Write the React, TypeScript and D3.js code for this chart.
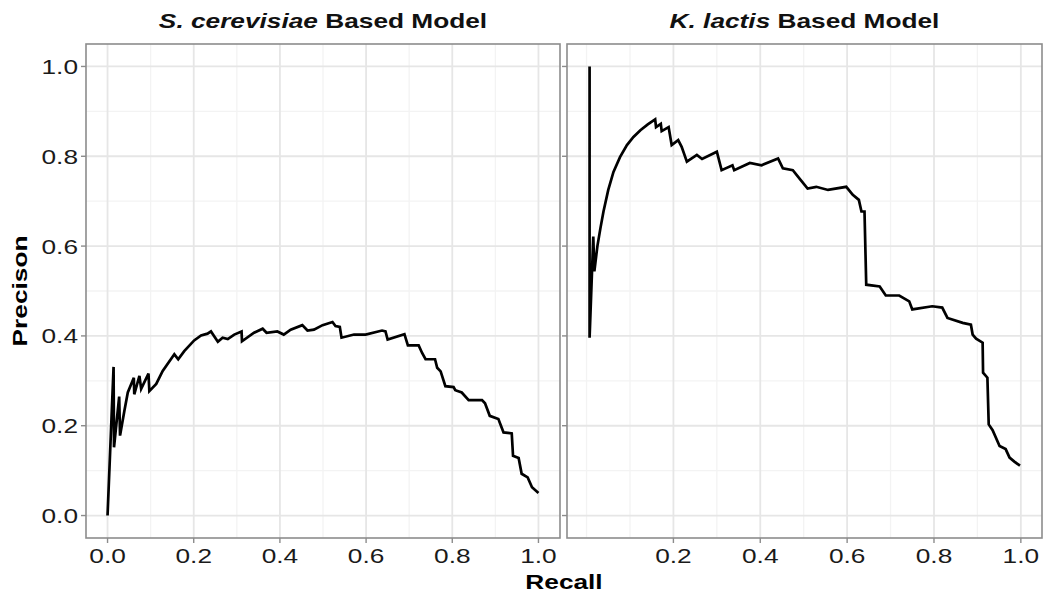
import React from "react";
import * as d3 from "d3";

// Precision-recall curve for the S. cerevisiae based model
const scRecall = [
  0, 0.014, 0.015, 0.027, 0.029, 0.039, 0.047, 0.061, 0.062, 0.074, 0.078, 0.095, 0.097,
  0.113, 0.128, 0.155, 0.164, 0.178, 0.201, 0.217, 0.232, 0.24, 0.256, 0.267, 0.279, 0.294,
  0.311, 0.312, 0.34, 0.36, 0.369, 0.394, 0.409, 0.425, 0.452, 0.464, 0.479, 0.499, 0.522,
  0.529, 0.539, 0.543, 0.572, 0.599, 0.637, 0.645, 0.65, 0.689, 0.697, 0.722, 0.73, 0.738,
  0.76, 0.765, 0.773, 0.784, 0.803, 0.807, 0.822, 0.838, 0.869, 0.876, 0.887, 0.907, 0.919,
  0.938, 0.941, 0.954, 0.961, 0.975, 0.985, 1.0,
];
const scPrecision = [
  0, 0.331, 0.152, 0.265, 0.178, 0.233, 0.274, 0.307, 0.27, 0.311, 0.282, 0.316, 0.277,
  0.293, 0.322, 0.359, 0.348, 0.366, 0.39, 0.401, 0.405, 0.41, 0.387, 0.396, 0.393, 0.403,
  0.41, 0.388, 0.407, 0.416, 0.407, 0.41, 0.403, 0.414, 0.424, 0.412, 0.414, 0.424, 0.431,
  0.422, 0.42, 0.396, 0.403, 0.403, 0.412, 0.41, 0.392, 0.404, 0.379, 0.379, 0.362, 0.348,
  0.348, 0.329, 0.321, 0.288, 0.286, 0.279, 0.274, 0.257, 0.257, 0.25, 0.222, 0.215, 0.185,
  0.183, 0.133, 0.128, 0.093, 0.085, 0.063, 0.05,
];

// Precision-recall curve for the K. lactis based model
const klRecall = [
  0.007, 0.007, 0.0155, 0.018, 0.025, 0.032, 0.039, 0.05, 0.062, 0.077, 0.093, 0.108, 0.124,
  0.141, 0.158, 0.16, 0.171, 0.173, 0.189, 0.196, 0.211, 0.219, 0.231, 0.254, 0.266, 0.3,
  0.311, 0.336, 0.34, 0.376, 0.403, 0.441, 0.452, 0.475, 0.49, 0.509, 0.529, 0.556, 0.598,
  0.613, 0.627, 0.633, 0.64, 0.644, 0.675, 0.689, 0.72, 0.743, 0.75, 0.796, 0.819, 0.831,
  0.866, 0.885, 0.889, 0.897, 0.912, 0.913, 0.923, 0.926, 0.935, 0.951, 0.965, 0.974, 0.985,
  0.998,
];
const klPrecision = [
  1.0, 0.396, 0.621, 0.544, 0.6, 0.64, 0.677, 0.725, 0.765, 0.798, 0.825, 0.843, 0.858,
  0.871, 0.882, 0.865, 0.872, 0.856, 0.865, 0.825, 0.836, 0.821, 0.788, 0.803, 0.794, 0.81,
  0.769, 0.78, 0.769, 0.785, 0.78, 0.795, 0.773, 0.769, 0.751, 0.728, 0.732, 0.725, 0.732,
  0.714, 0.703, 0.677, 0.677, 0.514, 0.51, 0.49, 0.49, 0.477, 0.459, 0.466, 0.463, 0.44,
  0.429, 0.425, 0.403, 0.394, 0.385, 0.318, 0.307, 0.203, 0.19, 0.155, 0.148, 0.129, 0.12,
  0.111,
];

const yTicks = [0, 0.2, 0.4, 0.6, 0.8, 1.0];
const yMinor = [0.1, 0.3, 0.5, 0.7, 0.9];
const xTicksLeft = [0, 0.2, 0.4, 0.6, 0.8, 1.0];
const xMinorLeft = [0.1, 0.3, 0.5, 0.7, 0.9];
const xTicksRight = [0.2, 0.4, 0.6, 0.8, 1.0];
const xMinorRight = [0.0, 0.1, 0.3, 0.5, 0.7, 0.9];

const W = 1044;
const H = 593;
const TOP = 44;
const BOTTOM = 538;
const FONT = "'Liberation Sans', Arial, Helvetica, sans-serif";
const BORDER = "#8c8c8c";
const WIDEN = 1.25;

type TProps = {
  x: number;
  y: number;
  anchor?: "start" | "middle" | "end";
  rotate?: number;
  bold?: boolean;
  dy?: string;
  fill?: string;
  children: React.ReactNode;
};

// Text drawn with a wide glyph setting along its own baseline
function T({ x, y, anchor = "middle", rotate = 0, bold = false, dy, fill = "#1a1a1a", children }: TProps) {
  return (
    <text
      transform={`translate(${x},${y}) rotate(${rotate}) scale(${WIDEN},1)`}
      textAnchor={anchor}
      dy={dy}
      fontFamily={FONT}
      fontSize={21}
      fontWeight={bold ? "bold" : "normal"}
      fill={fill}
    >
      {children}
    </text>
  );
}

type PanelProps = {
  left: number;
  right: number;
  xDomain: [number, number];
  xTicks: number[];
  xMinor: number[];
  recall: number[];
  precision: number[];
  italic: string;
  rest: string;
  showYLabels: boolean;
};

function Panel(p: PanelProps) {
  const x = d3.scaleLinear().domain(p.xDomain).range([p.left, p.right]);
  const y = d3.scaleLinear().domain([-0.05, 1.05]).range([BOTTOM, TOP]);
  const pts: [number, number][] = p.recall.map((r, i) => [r, p.precision[i]]);
  const line = d3
    .line<[number, number]>()
    .x((d) => x(d[0]))
    .y((d) => y(d[1]));
  const fmt = d3.format(".1f");
  const cx = (p.left + p.right) / 2;

  return (
    <g>
      <rect x={p.left} y={TOP} width={p.right - p.left} height={BOTTOM - TOP} fill="#fff" />
      {yMinor.map((v) => (
        <line key={"ym" + v} x1={p.left} x2={p.right} y1={y(v)} y2={y(v)} stroke="#f3f3f3" strokeWidth={1.3} />
      ))}
      {p.xMinor.map((v) => (
        <line key={"xm" + v} x1={x(v)} x2={x(v)} y1={TOP} y2={BOTTOM} stroke="#f3f3f3" strokeWidth={1.3} />
      ))}
      {yTicks.map((v) => (
        <line key={"yg" + v} x1={p.left} x2={p.right} y1={y(v)} y2={y(v)} stroke="#e6e6e6" strokeWidth={1.8} />
      ))}
      {p.xTicks.map((v) => (
        <line key={"xg" + v} x1={x(v)} x2={x(v)} y1={TOP} y2={BOTTOM} stroke="#e6e6e6" strokeWidth={1.8} />
      ))}
      <path
        d={line(pts) || ""}
        fill="none"
        stroke="#000"
        strokeWidth={2.7}
        strokeLinejoin="miter"
        strokeMiterlimit={4}
      />
      <rect
        x={p.left}
        y={TOP}
        width={p.right - p.left}
        height={BOTTOM - TOP}
        fill="none"
        stroke={BORDER}
        strokeWidth={1.6}
      />
      {yTicks.map((v) => (
        <g key={"yt" + v}>
          <line x1={p.left - 5} x2={p.left} y1={y(v)} y2={y(v)} stroke={BORDER} strokeWidth={1.4} />
          {p.showYLabels && (
            <T x={p.left - 8} y={y(v)} dy="0.36em" anchor="end">
              {fmt(v)}
            </T>
          )}
        </g>
      ))}
      {p.xTicks.map((v) => (
        <g key={"xt" + v}>
          <line x1={x(v)} x2={x(v)} y1={BOTTOM} y2={BOTTOM + 5} stroke={BORDER} strokeWidth={1.4} />
          <T x={x(v)} y={BOTTOM + 25}>
            {fmt(v)}
          </T>
        </g>
      ))}
      <T x={cx} y={28} bold fill="#111">
        <tspan fontStyle="italic">{p.italic}</tspan>
        <tspan>{p.rest}</tspan>
      </T>
    </g>
  );
}

export default function App() {
  return (
    <svg
      width={W}
      height={H}
      viewBox={`0 0 ${W} ${H}`}
      style={{ position: "absolute", left: 0, top: 0, background: "#fff" }}
    >
      <rect width={W} height={H} fill="#fff" />
      <Panel
        left={86}
        right={560}
        xDomain={[-0.05, 1.05]}
        xTicks={xTicksLeft}
        xMinor={xMinorLeft}
        recall={scRecall}
        precision={scPrecision}
        italic="S. cerevisiae"
        rest=" Based Model"
        showYLabels={true}
      />
      <Panel
        left={567}
        right={1042}
        xDomain={[-0.045, 1.0487]}
        xTicks={xTicksRight}
        xMinor={xMinorRight}
        recall={klRecall}
        precision={klPrecision}
        italic="K. lactis"
        rest=" Based Model"
        showYLabels={false}
      />
      <T x={564} y={589} bold fill="#000">
        Recall
      </T>
      <T x={27} y={(TOP + BOTTOM) / 2} rotate={-90} bold fill="#000">
        Precison
      </T>
    </svg>
  );
}
